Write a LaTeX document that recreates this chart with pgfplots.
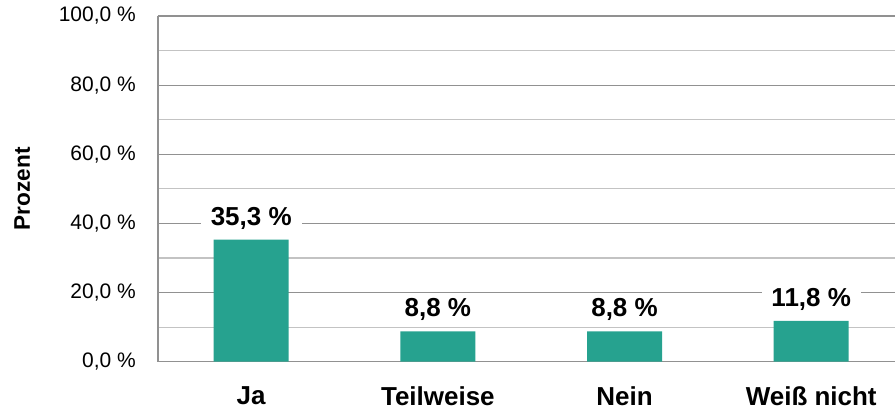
\documentclass[border=0pt]{standalone}
\usepackage{pgfplots}
\pgfplotsset{compat=1.18}
\usepackage{fontspec}
\setmainfont{Liberation Sans}
\definecolor{barteal}{RGB}{38,162,143}
\definecolor{gridmaj}{RGB}{145,145,145}
\definecolor{gridmin}{RGB}{195,195,195}
\begin{document}
\begin{tikzpicture}
\begin{axis}[
    scale only axis,
    width=369pt, height=173pt,
    xmin=-0.5, xmax=3.45,
    ymin=0, ymax=100,
    axis lines*=left,
    axis line style={gridmaj, line width=0.8pt},
    ybar, bar width=37.5pt,
    ytick={0,20,...,100},
    minor ytick={10,30,...,90},
    yticklabels={{0,0 \%},{20,0 \%},{40,0 \%},{60,0 \%},{80,0 \%},{100,0 \%}},
    ymajorgrids, yminorgrids,
    major grid style={gridmaj, line width=0.6pt},
    minor grid style={gridmin, line width=0.6pt},
    xtick=data,
    xticklabels={Ja,Teilweise,Nein,Weiß nicht},
    major tick length=0pt, minor tick length=0pt,
    tick style={draw=none},
    yticklabel style={font=\fontsize{10.5}{12}\selectfont, xshift=-7.5pt},
    xticklabel style={font=\fontsize{13}{15}\selectfont\bfseries, anchor=north, yshift=-9pt},
    ylabel={Prozent},
    ylabel style={font=\fontsize{11.3}{13}\selectfont\bfseries, at={(axis description cs:-0.184,0.5)}, anchor=center},
    /pgf/number format/assume math mode=true,
    nodes near coords={\pgfmathprintnumber[fixed,fixed zerofill,precision=1,use comma]{\pgfplotspointmeta} \%},
    every node near coord/.append style={font=\fontsize{13}{15}\selectfont\bfseries, fill=white, inner xsep=5pt, inner ysep=1pt, anchor=south, yshift=4pt, text=black},
    clip=false,
]
\addplot[fill=barteal, draw=none] coordinates {(0,35.3) (1,8.8) (2,8.8) (3,11.8)};
\end{axis}
\path (current axis.south west) ++(-79pt,-27pt) rectangle ++(448pt,208pt);
\end{tikzpicture}
\end{document}
